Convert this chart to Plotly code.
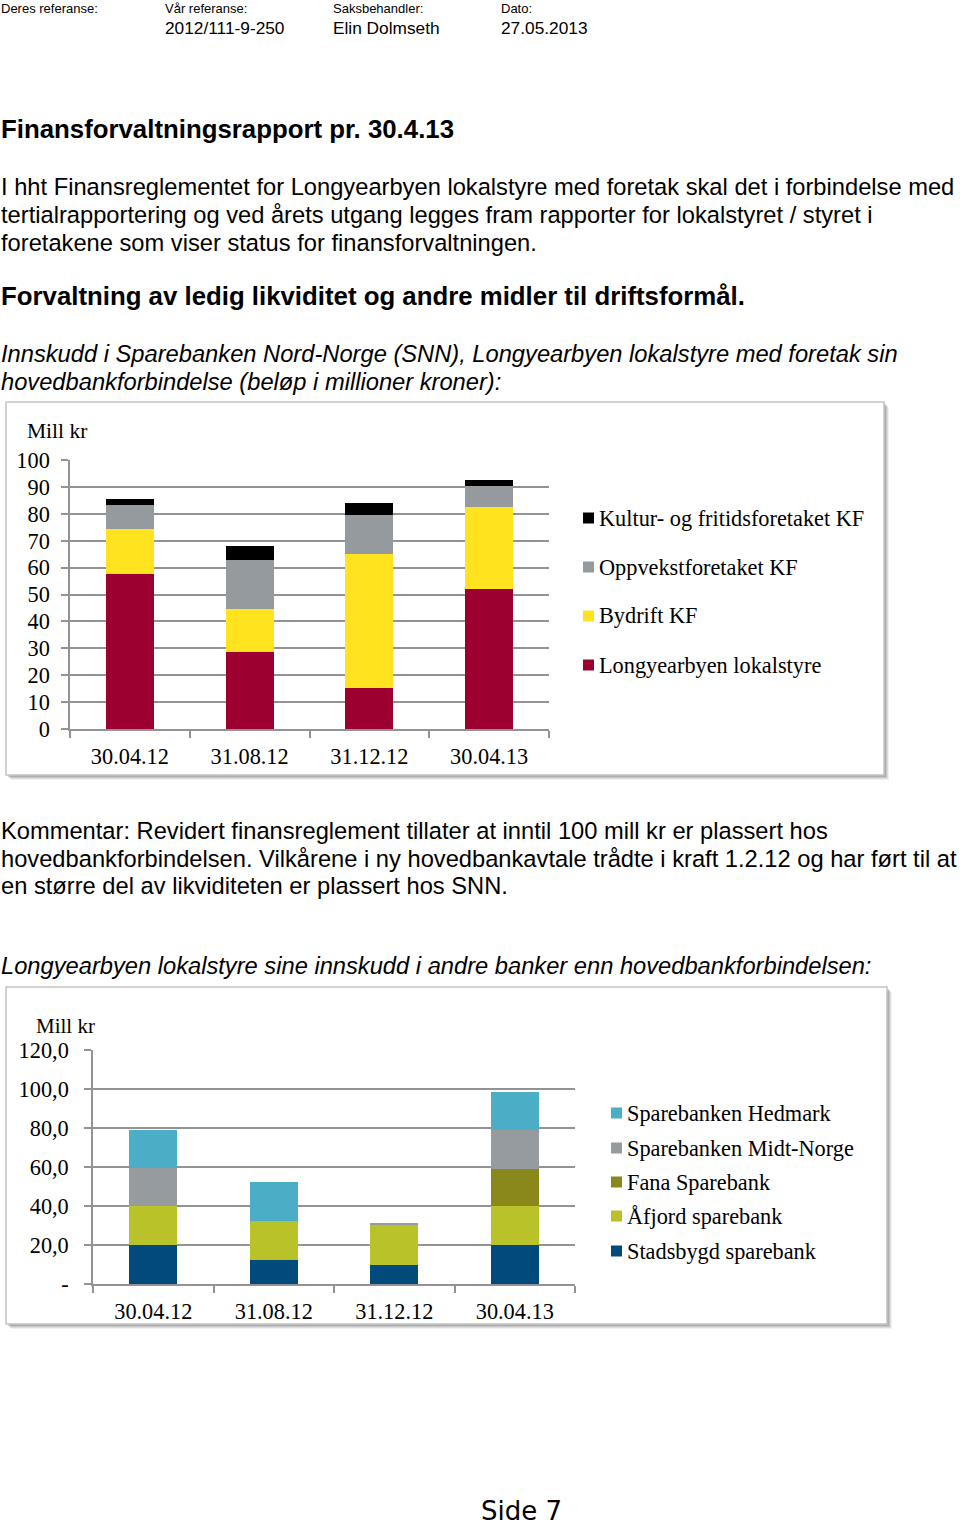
import plotly.graph_objects as go

W, H = 960, 1527

# ---------------- data ----------------
dates = ["30.04.12", "31.08.12", "31.12.12", "30.04.13"]

# Chart 1: SNN deposits (mill kr), stacked bottom -> top
longyearbyen = [57.7, 28.6, 15.1, 52.0]
bydrift = [16.7, 16.1, 50.0, 30.4]
oppvekst = [9.0, 18.2, 14.4, 8.0]
kultur = [2.0, 5.1, 4.6, 2.3]
c1_names = ["Longyearbyen lokalstyre", "Bydrift KF", "Oppvekstforetaket KF",
            "Kultur- og fritidsforetaket KF"]
c1_colors = ["#9B0030", "#FFE31E", "#959A9E", "#000000"]
c1_ticks = [0, 10, 20, 30, 40, 50, 60, 70, 80, 90, 100]

# Chart 2: other banks (mill kr), stacked bottom -> top
stadsbygd = [20.0, 12.3, 9.7, 20.0]
afjord = [20.0, 20.0, 20.7, 20.0]
fana = [0.0, 0.0, 0.0, 19.1]
midtnorge = [19.5, 0.0, 0.7, 19.7]
hedmark = [19.6, 20.2, 0.0, 19.7]
c2_names = ["Stadsbygd sparebank", "Åfjord sparebank", "Fana Sparebank",
            "Sparebanken Midt-Norge", "Sparebanken Hedmark"]
c2_colors = ["#004B7C", "#B9C329", "#8A881B", "#969B9F", "#4BADC6"]
c2_tickvals = [0, 20, 40, 60, 80, 100, 120]
c2_ticktext = ["-", "20,0", "40,0", "60,0", "80,0", "100,0", "120,0"]

# ---------------- helpers ----------------
def px(x):
    return x / W

def py(y):
    return 1 - y / H

SANS = "Liberation Sans, Arial, sans-serif"
SERIF = "Liberation Serif, Times New Roman, serif"
SERIF_SIZE = 22.3

fig = go.Figure()

for vals, name, col in zip([longyearbyen, bydrift, oppvekst, kultur], c1_names, c1_colors):
    fig.add_trace(go.Bar(x=dates, y=vals, name=name, marker=dict(color=col, line=dict(width=0)),
                         xaxis="x", yaxis="y", showlegend=False))

for vals, name, col in zip([stadsbygd, afjord, fana, midtnorge, hedmark], c2_names, c2_colors):
    fig.add_trace(go.Bar(x=dates, y=vals, name=name, marker=dict(color=col, line=dict(width=0)),
                         xaxis="x2", yaxis="y2", showlegend=False))

GRID = "#939393"
axis_common = dict(showgrid=False, showline=True, linecolor=GRID, linewidth=1.5,
                   ticks="outside", ticklen=7, tickcolor=GRID, tickwidth=1.5,
                   tickfont=dict(family=SERIF, size=SERIF_SIZE, color="black"),
                   tickson="boundaries", fixedrange=True, ticklabelstandoff=6,
                   automargin=False)

fig.update_layout(
    template="none",
    width=W, height=H,
    margin=dict(l=0, r=0, t=0, b=0, pad=0),
    paper_bgcolor="white", plot_bgcolor="rgba(0,0,0,0)",
    barmode="stack", bargap=0.6,
    showlegend=False,
    xaxis=dict(domain=[px(70), px(549)], anchor="y", **axis_common),
    yaxis=dict(domain=[py(729), py(460)], anchor="x", range=[0, 100],
               tickvals=c1_ticks, showgrid=True, gridcolor=GRID, gridwidth=1.5,
               showline=True, linecolor=GRID, linewidth=1.5, zeroline=False,
               ticks="outside", ticklen=7, tickcolor=GRID, tickwidth=1.5,
               ticklabelstandoff=7, automargin=False,
               tickfont=dict(family=SERIF, size=SERIF_SIZE, color="black"), fixedrange=True),
    xaxis2=dict(domain=[px(93), px(575)], anchor="y2", **axis_common),
    yaxis2=dict(domain=[py(1284), py(1050)], anchor="x2", range=[0, 120],
                tickvals=c2_tickvals, ticktext=c2_ticktext, showgrid=True, gridcolor=GRID,
                gridwidth=1.5, showline=True, linecolor=GRID, linewidth=1.5, zeroline=False,
                ticks="outside", ticklen=7, tickcolor=GRID, tickwidth=1.5,
                ticklabelstandoff=11, automargin=False,
                tickfont=dict(family=SERIF, size=SERIF_SIZE, color="black"), fixedrange=True),
)

shapes = []
annotations = []

def frame(x0, y0, x1, y1):
    # soft shadow
    for i, op in enumerate([0.10, 0.16, 0.22, 0.30]):
        off = 5 - i
        shapes.append(dict(type="rect", xref="paper", yref="paper",
                           x0=px(x0 + off), x1=px(x1 + off), y0=py(y1 + off), y1=py(y0 + off),
                           fillcolor=f"rgba(120,120,120,{op})", line=dict(width=0), layer="below"))
    shapes.append(dict(type="rect", xref="paper", yref="paper",
                       x0=px(x0), x1=px(x1), y0=py(y1), y1=py(y0),
                       fillcolor="white", line=dict(color="#C4C4C4", width=1.5), layer="below"))

frame(6, 402, 884, 775)
frame(6, 987, 887, 1324)

def text(x, y, s, size, family=SANS, bold=False, italic=False, xanchor="left", color="black"):
    if bold:
        s = f"<b>{s}</b>"
    if italic:
        s = f"<i>{s}</i>"
    annotations.append(dict(xref="paper", yref="paper", x=px(x), y=py(y), text=s,
                            showarrow=False, xanchor=xanchor, yanchor="middle",
                            borderpad=0, font=dict(family=family, size=size, color=color)))

# header
text(0, 8, "Deres referanse:", 13)
text(164, 8, "Vår referanse:", 13)
text(332, 8, "Saksbehandler:", 13)
text(500, 8, "Dato:", 13)
text(164, 28, "2012/111-9-250", 17.3)
text(332, 28, "Elin Dolmseth", 17.3)
text(500, 28, "27.05.2013", 17.3)

text(0, 129, "Finansforvaltningsrapport pr. 30.4.13", 25.8, bold=True)
body = ["I hht Finansreglementet for Longyearbyen lokalstyre med foretak skal det i forbindelse med",
        "tertialrapportering og ved årets utgang legges fram rapporter for lokalstyret / styret i",
        "foretakene som viser status for finansforvaltningen."]
for i, line in enumerate(body):
    text(0, 187 + i * 27.8, line, 23.7)
text(0, 296, "Forvaltning av ledig likviditet og andre midler til driftsformål.", 25.8, bold=True)
text(0, 354, "Innskudd i Sparebanken Nord-Norge (SNN), Longyearbyen lokalstyre med foretak sin", 23.7, italic=True)
text(0, 382, "hovedbankforbindelse (beløp i millioner kroner):", 23.7, italic=True)

komm = ["Kommentar: Revidert finansreglement tillater at inntil 100 mill kr er plassert hos",
        "hovedbankforbindelsen. Vilkårene i ny hovedbankavtale trådte i kraft 1.2.12 og har ført til at",
        "en større del av likviditeten er plassert hos SNN."]
for i, line in enumerate(komm):
    text(0, 831 + i * 27.5, line, 23.7)
text(0, 966, "Longyearbyen lokalstyre sine innskudd i andre banker enn hovedbankforbindelsen:", 23.7, italic=True)

text(521, 1511, "Side 7", 26, family="DejaVu Sans, Verdana, sans-serif", xanchor="center")

# axis unit labels
text(26, 431, "Mill kr", 21.5, family=SERIF)
text(35, 1026, "Mill kr", 21, family=SERIF)

# legends
def legend_item(xsq, ytxt, name, color):
    shapes.append(dict(type="rect", xref="paper", yref="paper",
                       x0=px(xsq), x1=px(xsq + 11), y0=py(ytxt + 5.5), y1=py(ytxt - 5.5),
                       fillcolor=color, line=dict(width=0)))
    text(xsq + 15, ytxt, name, SERIF_SIZE, family=SERIF)

for name, col, yy in zip(c1_names[::-1], c1_colors[::-1], [518, 567, 616, 665]):
    legend_item(583, yy, name, col)

for name, col, yy in zip(c2_names[::-1], c2_colors[::-1], [1113, 1148, 1182, 1216, 1251]):
    legend_item(611, yy, name, col)

fig.update_layout(shapes=shapes, annotations=annotations)

fig.write_html(
    "out.html",
    config={"displayModeBar": False},
    post_script="document.body.style.margin='0';document.body.style.padding='0';"
                "document.body.style.overflow='hidden';",
)
